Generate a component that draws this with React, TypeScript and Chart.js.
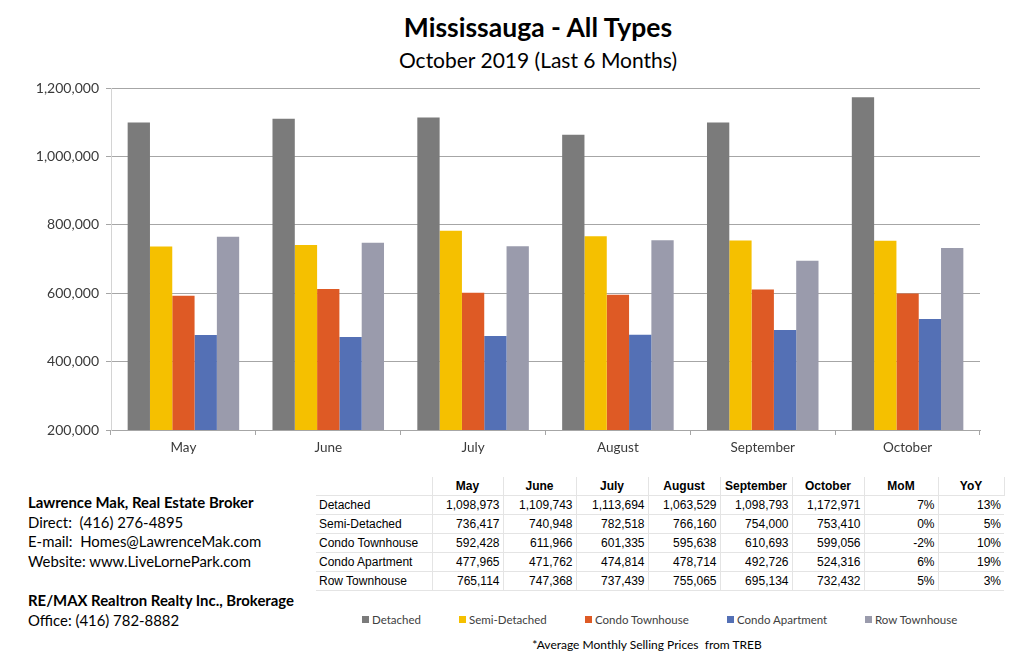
import React, { useEffect, useRef } from "react";
import { Chart, registerables } from "chart.js";

Chart.register(...registerables);

const months = ["May", "June", "July", "August", "September", "October"];
const seriesNames = ["Detached", "Semi-Detached", "Condo Townhouse", "Condo Apartment", "Row Townhouse"];
const detached = [1098973, 1109743, 1113694, 1063529, 1098793, 1172971];
const semiDetached = [736417, 740948, 782518, 766160, 754000, 753410];
const condoTownhouse = [592428, 611966, 601335, 595638, 610693, 599056];
const condoApartment = [477965, 471762, 474814, 478714, 492726, 524316];
const rowTownhouse = [765114, 747368, 737439, 755065, 695134, 732432];
const momValues = ["7%", "0%", "-2%", "6%", "5%"];
const yoyValues = ["13%", "5%", "10%", "19%", "3%"];
const seriesColors = ["#7b7b7b", "#f5c000", "#de5a25", "#5470b5", "#9a9bac"];
const yTickMin = 200000;
const yTickMax = 1200000;
const yTickStep = 200000;

const seriesValues = [detached, semiDetached, condoTownhouse, condoApartment, rowTownhouse];

const fmt = (v: number) => v.toLocaleString("en-US");

export default function App() {
  const canvasRef = useRef<HTMLCanvasElement | null>(null);

  useEffect(() => {
    if (!canvasRef.current) return;
    const chart = new Chart(canvasRef.current, {
      type: "bar",
      data: {
        labels: months,
        datasets: seriesNames.map((name, i) => ({
          label: name,
          data: seriesValues[i],
          backgroundColor: seriesColors[i],
          borderWidth: 0,
          barPercentage: 1,
          categoryPercentage: 0.77,
        })),
      },
      options: {
        animation: false,
        responsive: true,
        maintainAspectRatio: false,
        layout: { padding: { top: 88, right: 44, left: 0, bottom: 0 } },
        plugins: {
          legend: { display: false },
          title: { display: false },
          tooltip: { enabled: false },
        },
        scales: {
          x: {
            afterFit: (s: any) => {
              s.height = 40;
            },
            grid: {
              offset: true,
              drawOnChartArea: false,
              drawTicks: true,
              tickLength: 5,
              color: "#a6a6a6",
            },
            border: { display: true, color: "#a6a6a6", width: 1 },
            ticks: {
              padding: 5,
              color: "#3a3a3a",
              font: { family: "Lato", size: 13.5 },
            },
          },
          y: {
            min: yTickMin,
            max: yTickMax,
            afterFit: (s: any) => {
              s.width = 111;
            },
            grid: {
              color: "#a6a6a6",
              tickLength: 5,
              drawTicks: true,
            },
            border: { display: true, color: "#d4d4d4", width: 1 },
            ticks: {
              stepSize: yTickStep,
              padding: 7,
              color: "#3a3a3a",
              font: { family: "Lato", size: 14 },
              callback: (v: any) => fmt(Number(v)),
            },
          },
        },
      },
    });
    return () => chart.destroy();
  }, []);

  const cellBorder = "1px solid #e4e4e4";
  const colWidths = [116, 71, 73, 72, 72, 72, 72, 74, 66];
  const tdBase: React.CSSProperties = {
    borderRight: cellBorder,
    borderBottom: cellBorder,
    padding: "0 3px 0 3px",
    height: 18,
    lineHeight: "18px",
    whiteSpace: "nowrap",
    textAlign: "right",
  };
  const legendLefts = [362, 459, 585, 727, 865];

  return (
    <div
      style={{
        position: "absolute",
        left: 0,
        top: 0,
        width: 1024,
        height: 662,
        background: "#ffffff",
        overflow: "hidden",
      }}
    >
      <div
        style={{
          position: "absolute",
          left: 288,
          width: 500,
          top: 11,
          textAlign: "center",
          fontFamily: "Lato",
          fontWeight: 700,
          fontSize: 26.5,
          color: "#000",
          lineHeight: "32px",
        }}
      >
        Mississauga - All Types
      </div>
      <div
        style={{
          position: "absolute",
          left: 288,
          width: 500,
          top: 46,
          textAlign: "center",
          fontFamily: "Lato",
          fontSize: 21,
          color: "#000",
          lineHeight: "28px",
        }}
      >
        October 2019 (Last 6 Months)
      </div>

      <div style={{ position: "absolute", left: 0, top: 0, width: 1024, height: 470 }}>
        <canvas ref={canvasRef} />
      </div>

      <table
        style={{
          position: "absolute",
          left: 316,
          top: 477,
          borderCollapse: "collapse",
          tableLayout: "fixed",
          fontFamily: "'Liberation Sans', Arial, sans-serif",
          fontSize: 12,
          color: "#000",
        }}
      >
        <colgroup>
          {colWidths.map((w, i) => (
            <col key={i} style={{ width: w }} />
          ))}
        </colgroup>
        <thead>
          <tr>
            <th style={{ ...tdBase, textAlign: "left" }}></th>
            {[...months, "MoM", "YoY"].map((m) => (
              <th key={m} style={{ ...tdBase, textAlign: "center", fontWeight: 700 }}>
                {m}
              </th>
            ))}
          </tr>
        </thead>
        <tbody>
          {seriesNames.map((name, i) => (
            <tr key={name}>
              <td style={{ ...tdBase, textAlign: "left", paddingLeft: 3 }}>{name}</td>
              {seriesValues[i].map((v, j) => (
                <td key={j} style={tdBase}>
                  {fmt(v)}
                </td>
              ))}
              <td style={tdBase}>{momValues[i]}</td>
              <td style={{ ...tdBase, borderRight: "none" }}>{yoyValues[i]}</td>
            </tr>
          ))}
        </tbody>
      </table>

      <div
        style={{
          position: "absolute",
          left: 28,
          top: 493,
          fontFamily: "Lato",
          fontSize: 14.9,
          lineHeight: "19.6px",
          color: "#000",
        }}
      >
        <div style={{ fontWeight: 700 }}>Lawrence Mak, Real Estate Broker</div>
        <div>Direct:&nbsp; (416) 276-4895</div>
        <div>E-mail:&nbsp; Homes@LawrenceMak.com</div>
        <div>Website: www.LiveLornePark.com</div>
        <div>&nbsp;</div>
        <div style={{ fontWeight: 700 }}>RE/MAX Realtron Realty Inc., Brokerage</div>
        <div>Office: (416) 782-8882</div>
      </div>

      {seriesNames.map((name, i) => (
        <div
          key={name}
          style={{
            position: "absolute",
            left: legendLefts[i],
            top: 611,
            height: 16,
            display: "flex",
            alignItems: "center",
            fontFamily: "Lato",
            fontSize: 11.5,
            color: "#404040",
            whiteSpace: "nowrap",
          }}
        >
          <span
            style={{
              display: "inline-block",
              width: 7,
              height: 7,
              background: seriesColors[i],
              marginRight: 3,
            }}
          />
          {name}
        </div>
      ))}

      <div
        style={{
          position: "absolute",
          left: 497,
          width: 300,
          top: 637,
          textAlign: "center",
          fontFamily: "Lato",
          fontSize: 12,
          color: "#000",
        }}
      >
        *Average Monthly Selling Prices&nbsp; from TREB
      </div>
    </div>
  );
}
